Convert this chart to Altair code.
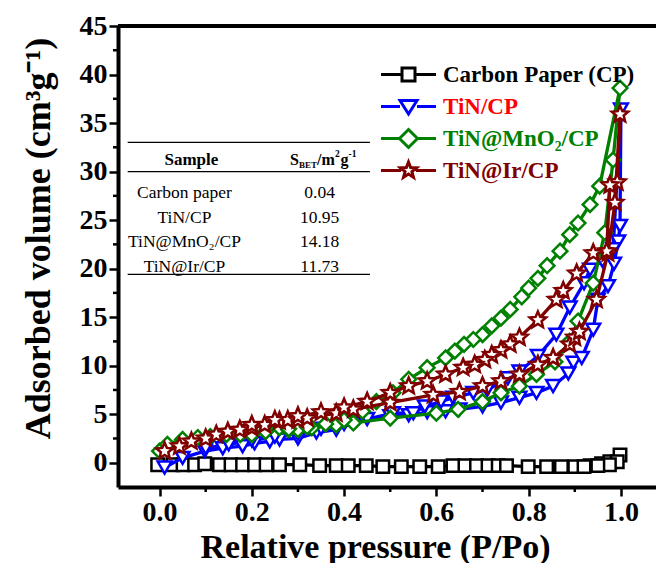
import math
import altair as alt
import pandas as pd

# ---------------- data ----------------
series_names = ["Carbon Paper (CP)", "TiN/CP", "TiN@MnO₂/CP", "TiN@Ir/CP"]
series_colors = ["#000000", "#0000ff", "#008000", "#800000"]
legend_label_colors = ["#000000", "#ff0000", "#008000", "#800000"]

# adsorption branch followed by desorption branch (drawing order)
cp_x = [-0.004, 0.029, 0.051, 0.076, 0.098, 0.13, 0.155, 0.18, 0.206, 0.231, 0.26, 0.304,
        0.347, 0.383, 0.409, 0.448, 0.484, 0.524, 0.564, 0.604, 0.636, 0.662, 0.687, 0.712,
        0.734, 0.752, 0.799, 0.839, 0.871, 0.9, 0.933, 0.958, 0.976, 0.998,
        0.992, 0.975, 0.95, 0.92]
cp_y = [-0.2, -0.2, -0.2, -0.2, -0.1, -0.2, -0.2, -0.2, -0.2, -0.2, -0.2, -0.2,
        -0.3, -0.3, -0.3, -0.3, -0.4, -0.4, -0.4, -0.4, -0.3, -0.3, -0.3, -0.3,
        -0.3, -0.3, -0.4, -0.4, -0.4, -0.4, -0.3, -0.1, 0.1, 0.8,
        0.1, -0.2, -0.3, -0.4]

tin_x = [0.011, 0.05, 0.098, 0.137, 0.18, 0.206, 0.239, 0.26, 0.3, 0.34, 0.383, 0.42, 0.5,
         0.54, 0.58, 0.62, 0.65, 0.7, 0.74, 0.78, 0.817, 0.853, 0.886, 0.897, 0.915, 0.94,
         0.95, 0.972, 0.985, 0.994, 0.998, 1.0,
         0.983, 0.96, 0.933, 0.92, 0.889, 0.86, 0.82, 0.78, 0.755, 0.71, 0.68, 0.636, 0.61,
         0.575, 0.55, 0.506, 0.45, 0.4, 0.35, 0.3, 0.25, 0.2, 0.15, 0.1]
tin_y = [-0.5, 0.5, 1.2, 1.5, 1.7, 2.0, 2.2, 2.4, 2.5, 3.1, 3.4, 4.1, 4.8,
         4.9, 5.2, 5.3, 5.5, 5.8, 6.2, 6.7, 7.2, 7.9, 9.2, 10.3, 10.8, 13.7,
         16.8, 18.2, 20.5, 22.8, 24.4, 36.4,
         22.0, 20.8, 19.9, 18.5, 16.0, 13.2, 11.0, 9.4, 8.7, 7.5, 7.2, 6.7, 6.3,
         5.8, 5.1, 5.1, 4.5, 4.0, 3.5, 3.0, 2.7, 2.3, 1.9, 1.5]

mno2_x = [0.0, 0.017, 0.05, 0.083, 0.11, 0.145, 0.175, 0.2, 0.23, 0.26, 0.28, 0.3, 0.33,
          0.383, 0.42, 0.5, 0.6, 0.647, 0.7, 0.74, 0.78, 0.817, 0.857, 0.889, 0.907, 0.94,
          0.965, 0.983, 0.998,
          0.954, 0.933, 0.907, 0.889, 0.868, 0.84, 0.82, 0.8, 0.785, 0.76, 0.74, 0.72, 0.7,
          0.68, 0.66, 0.64, 0.62, 0.58, 0.54, 0.506, 0.47, 0.44, 0.4, 0.36, 0.32, 0.28]
mno2_y = [1.2, 1.9, 2.4, 2.6, 2.7, 2.9, 2.9, 2.9, 3.2, 3.6, 3.4, 3.4, 3.6,
          3.9, 4.1, 4.6, 5.1, 5.5, 6.3, 7.2, 7.9, 9.1, 10.4, 12.5, 14.6, 18.5,
          23.7, 31.2, 38.6,
          28.5, 26.6, 24.7, 23.5, 21.8, 20.3, 19.0, 18.0, 17.1, 15.8, 14.9, 14.1, 13.2,
          12.7, 12.2, 11.5, 10.8, 9.8, 8.6, 7.2, 6.3, 5.3, 4.4, 4.0, 3.7, 3.5]

ir_x = [0.011, 0.043, 0.069, 0.10, 0.123, 0.148, 0.174, 0.2, 0.228, 0.26, 0.278, 0.30, 0.32,
        0.383, 0.42, 0.50, 0.593, 0.65, 0.70, 0.74, 0.78, 0.82, 0.853, 0.889, 0.90, 0.91,
        0.947, 0.972, 0.987, 0.998,
        0.992, 0.976, 0.969, 0.94, 0.904, 0.875, 0.86, 0.82, 0.78, 0.76, 0.74, 0.72, 0.705,
        0.683, 0.658, 0.62, 0.58, 0.54, 0.50, 0.45, 0.40, 0.35, 0.30, 0.25, 0.2]
ir_y = [1.2, 1.7, 2.2, 2.5, 2.9, 3.2, 3.4, 3.6, 3.9, 4.3, 4.4, 4.4, 4.6,
        5.1, 5.5, 6.2, 7.0, 7.3, 7.9, 8.4, 9.1, 10.1, 10.8, 12.2, 12.9, 13.5,
        16.8, 21.6, 26.8, 35.9,
        28.9, 28.6, 21.8, 21.6, 19.5, 17.7, 16.8, 14.7, 12.9, 12.2, 11.6, 11.1, 10.6,
        10.1, 9.8, 9.1, 8.4, 7.9, 7.2, 6.3, 5.7, 5.2, 4.8, 4.4, 3.9]

table_samples = ["Carbon paper", "TiN/CP", "TiN@MnO₂/CP", "TiN@Ir/CP"]
table_sbet = ["0.04", "10.95", "14.18", "11.73"]

x_major_ticks = [0.0, 0.2, 0.4, 0.6, 0.8, 1.0]
x_minor_ticks = [0.1, 0.3, 0.5, 0.7, 0.9]
y_major_ticks = [0, 5, 10, 15, 20, 25, 30, 35, 40, 45]
y_minor_ticks = [2.5, 7.5, 12.5, 17.5, 22.5, 27.5, 32.5, 37.5, 42.5]

# ---------------- layout constants ----------------
FONT = "Liberation Serif"
X_DOMAIN = [-0.09, 1.076]
Y_DOMAIN = [-2.5, 45]
PLOT_W, PLOT_H = 538, 461
MAJOR_TICK, MINOR_TICK = 9, 5


def star_path(R, r):
    pts = []
    for k in range(10):
        ang = -math.pi / 2 + k * math.pi / 5
        rad = R if k % 2 == 0 else r
        pts.append(f"{rad*math.cos(ang):.3f},{rad*math.sin(ang):.3f}")
    return "M" + "L".join(pts) + "Z"


marker_shapes = ["square", "triangle-down", "diamond", star_path(1.0, 0.45)]
marker_sizes = [155, 190, 215, 300]

xs = alt.Scale(domain=X_DOMAIN, nice=False, zero=False)
ys = alt.Scale(domain=Y_DOMAIN, nice=False, zero=False)

x_axis = alt.Axis(
    values=x_major_ticks, format=".1f", tickSize=MAJOR_TICK,
    labelOverlap=False, labelFlush=False, grid=False,
    title="Relative pressure (P/Po)",
    titleX=257, titleY=70, titleBaseline="alphabetic", titleAlign="center",
)
y_axis = alt.Axis(
    values=y_major_ticks, format="d", tickSize=MAJOR_TICK,
    labelOverlap=False, labelFlush=False, grid=False,
    title="Adsorbed volume (cm³g⁻¹)",
    titleAngle=270, titleX=-69, titleY=212, titleBaseline="alphabetic", titleAlign="center",
    titleFontSize=36,
)

X = alt.X("x:Q", scale=xs, axis=x_axis)
Y = alt.Y("y:Q", scale=ys, axis=y_axis)

series_x = [cp_x, tin_x, mno2_x, ir_x]
series_y = [cp_y, tin_y, mno2_y, ir_y]

rows = []
for name, sx, sy in zip(series_names, series_x, series_y):
    for i, (a, b) in enumerate(zip(sx, sy)):
        rows.append({"series": name, "i": i, "x": a, "y": b})
df = pd.DataFrame(rows)

layers = []

# top frame line
layers.append(
    alt.Chart(pd.DataFrame({"y": [Y_DOMAIN[1]]}))
    .mark_rule(color="black", strokeWidth=4)
    .encode(y=Y)
)
# minor ticks
layers.append(
    alt.Chart(pd.DataFrame({"x": x_minor_ticks}))
    .mark_rule(color="black", strokeWidth=2.5)
    .encode(x=X, y=alt.value(PLOT_H), y2=alt.value(PLOT_H + MINOR_TICK))
)
layers.append(
    alt.Chart(pd.DataFrame({"y": y_minor_ticks}))
    .mark_rule(color="black", strokeWidth=2.5)
    .encode(y=Y, x=alt.value(0), x2=alt.value(-MINOR_TICK))
)

for name, col, shp, msz in zip(series_names, series_colors, marker_shapes, marker_sizes):
    sub = df[df["series"] == name]
    base = alt.Chart(sub)
    layers.append(
        base.mark_line(color=col, strokeWidth=3.3).encode(x=X, y=Y, order=alt.Order("i:Q"))
    )
    layers.append(
        base.mark_point(shape=shp, filled=True, fill="white", stroke=col, strokeWidth=2.5,
                        size=msz, opacity=1)
        .encode(x=X, y=Y)
    )

# ---------------- inset table ----------------
TBL_X0, TBL_X1 = -0.069, 0.456
TBL_LINES_Y = [33.0, 30.0, 19.4]
COL1_X, COL2_X = 0.054, 0.347
HEADER_Y = 31.2
ROW_Y0, ROW_DY = 27.8, -2.55

lines_df = pd.DataFrame({"x": [TBL_X0] * 3, "x2": [TBL_X1] * 3, "y": TBL_LINES_Y})
layers.append(
    alt.Chart(lines_df).mark_rule(color="black", strokeWidth=1.3)
    .encode(x=X, x2="x2:Q", y=Y)
)

cells = []
for k, (s, v) in enumerate(zip(table_samples, table_sbet)):
    yy = ROW_Y0 + k * ROW_DY
    cells.append({"x": COL1_X, "y": yy, "t": s})
    cells.append({"x": COL2_X, "y": yy, "t": v})
layers.append(
    alt.Chart(pd.DataFrame(cells))
    .mark_text(font=FONT, fontSize=17.5, color="black", baseline="middle", align="center")
    .encode(x=X, y=Y, text="t:N")
)
layers.append(
    alt.Chart(pd.DataFrame({"x": [0.069], "y": [HEADER_Y], "t": ["Sample"]}))
    .mark_text(font=FONT, fontSize=17, fontWeight="bold", color="black", baseline="middle", align="center")
    .encode(x=X, y=Y, text="t:N")
)
hdr_pieces = [("S", 16, 0, 0), ("BET", 9, 9, 5), ("/m", 16, 27, 0), ("2", 9.5, 45, -6),
              ("g", 16, 50.5, 0), ("-1", 9.5, 58.5, -6)]
HDR_X = 0.283
for txt, fs, ddx, ddy in hdr_pieces:
    layers.append(
        alt.Chart(pd.DataFrame({"x": [HDR_X], "y": [HEADER_Y], "t": [txt]}))
        .mark_text(font=FONT, fontSize=fs, fontWeight="bold", color="black",
                   baseline="middle", align="left", dx=ddx, dy=ddy)
        .encode(x=X, y=Y, text="t:N")
    )

# ---------------- legend: one single-entry legend per series ----------------
L = 2.75
legend_paths = [
    f"M{-L},0H-0.65M0.65,0H{L}M-0.65,-0.65H0.65V0.65H-0.65Z",
    f"M{-L},0H-0.85M0.85,0H{L}M-0.85,-0.6L0.85,-0.6L0,0.75Z",
    f"M{-L},0H-0.9M0.9,0H{L}M-0.9,0L0,-0.9L0.9,0L0,0.9Z",
    f"M{-L},0H-0.75M0.75,0H{L}" + star_path(0.85, 0.36),
]
LEG_X, LEG_Y0, LEG_DY = 279, 37, 32
for k, (name, col, lcol, path) in enumerate(zip(series_names, series_colors, legend_label_colors, legend_paths)):
    leg = alt.Legend(
        orient="none", legendX=LEG_X, legendY=LEG_Y0 + k * LEG_DY, title=None,
        symbolSize=400, symbolStrokeWidth=3, symbolOffset=0, padding=0,
        labelFont=FONT, labelFontWeight="bold", labelFontSize=23,
        labelColor=lcol, labelOffset=23, labelLimit=400,
    )
    layers.append(
        alt.Chart(df)
        .transform_filter("false")
        .mark_point(filled=False, opacity=1)
        .encode(
            x=X, y=Y,
            color=alt.Color("series:N", scale=alt.Scale(domain=[name], range=[col]), legend=leg),
            shape=alt.Shape("series:N", scale=alt.Scale(domain=[name], range=[path]), legend=leg),
        )
    )

chart = (
    alt.layer(*layers)
    .resolve_scale(color="independent", shape="independent")
    .properties(
        width=PLOT_W, height=PLOT_H,
        autosize=alt.AutoSizeParams(type="none"),
        padding={"left": 110, "top": 18, "right": 0, "bottom": 76},
        background="white",
    )
    .configure_view(stroke=None)
    .configure_axis(
        domainColor="black", domainWidth=4, tickColor="black", tickWidth=2.5,
        labelFont=FONT, labelFontWeight="bold", labelFontSize=28, labelColor="black",
        labelPadding=2,
        titleFont=FONT, titleFontWeight="bold", titleFontSize=34, titleColor="black",
    )
)

chart.save("out.html", embed_options={"renderer": "svg", "actions": False})
